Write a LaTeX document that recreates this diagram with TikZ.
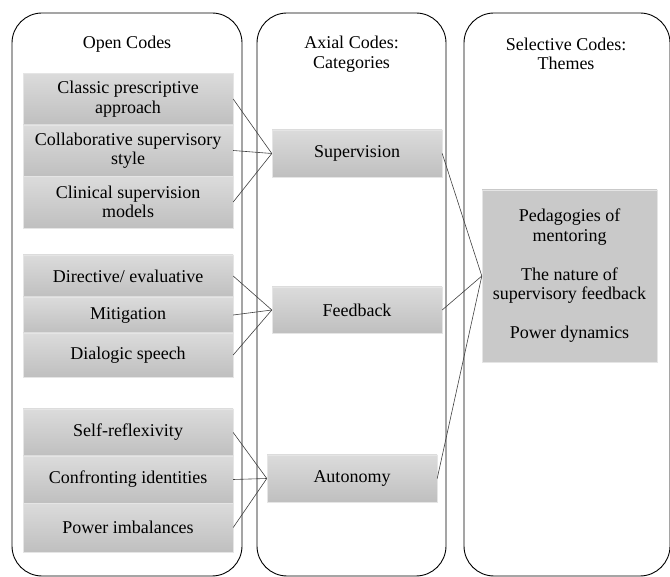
\documentclass[tikz,border=0pt]{standalone}
\usepackage{fontspec}
\setmainfont{Liberation Serif}

\newcommand{\codefont}{\fontsize{18}{19.5}\selectfont}
\newcommand{\panelframe}[4]% left, top, right, bottom
{(#1,#2) rectangle (#3,#4)
}

\begin{document}
\begin{tikzpicture}[x=1pt, y=-1pt,
  codecell/.style={draw=cellrim, top color=celltop, bottom color=cellbot, minimum width=210pt, align=center, inner sep=0pt, font=\codefont},
  axialcell/.style={codecell, minimum width=170pt},
  themecell/.style={codecell, minimum width=175pt, minimum height=172pt, top color=theme, bottom color=theme},
  heading/.style={align=center, font=\codefont},
  link/.style={draw=linkgray, line width=0.6pt},
  panel/.style={draw=black, line width=0.9pt, rounded corners=30pt}]

\definecolor{celltop}{rgb}{0.86,0.86,0.86}
\definecolor{cellbot}{rgb}{0.75,0.75,0.75}
\definecolor{cellrim}{rgb}{0.9,0.9,0.9}
\definecolor{theme}{rgb}{0.79,0.79,0.79}
\definecolor{linkgray}{rgb}{0.25,0.25,0.25}

\useasboundingbox (0,0) rectangle (670,577);
\clip (0,0) rectangle (670,577);

\draw[panel] \panelframe{12}{13}{242}{576};
\draw[panel] \panelframe{257}{13}{446}{576};
\draw[panel] \panelframe{464}{13}{670}{576};

\node[heading] (hopen) at (127,44) {Open Codes};
\node[heading] (haxial) at (351.5,54) {Axial Codes:\\Categories};
\node[heading] (hselect) at (566,54) {Selective Codes:\\Themes};

% open codes
\node[codecell, minimum height=51.5pt] (cls) at (128,99) {Classic prescriptive\\approach};
\node[codecell, minimum height=51.5pt] (col) at (128,150.5) {Collaborative supervisory\\style};
\node[codecell, minimum height=51.5pt] (cli) at (128,202) {Clinical supervision\\models};

\node[codecell, minimum height=42pt] (dir) at (128,276) {Directive/ evaluative};
\node[codecell, minimum height=36pt] (mit) at (128,315) {Mitigation};
\node[codecell, minimum height=44pt] (dia) at (128,355) {Dialogic speech};

\node[codecell, minimum height=47pt] (slf) at (128,432.5) {Self-reflexivity};
\node[codecell, minimum height=47pt] (con) at (128,479.5) {Confronting identities};
\node[codecell, minimum height=49pt] (pwr) at (128,527.5) {Power imbalances};

% axial codes
\node[axialcell, minimum height=47pt] (sup) at (357,153.5) {Supervision};
\node[axialcell, minimum height=46pt] (fdb) at (357,310) {Feedback};
\node[axialcell, minimum height=47pt] (aut) at (352,478.5) {Autonomy};

% themes
\node[themecell] (thm) at (569.5,276) {Pedagogies of\\mentoring\\[19.5pt]The nature of\\supervisory feedback\\[19.5pt]Power dynamics};

\draw[link] (cls.east) -- (sup.west);
\draw[link] (col.east) -- (sup.west);
\draw[link] (cli.east) -- (sup.west);

\draw[link] (dir.east) -- (fdb.west);
\draw[link] (mit.east) -- (fdb.west);
\draw[link] (dia.east) -- (fdb.west);

\draw[link] (slf.east) -- (aut.west);
\draw[link] (con.east) -- (aut.west);
\draw[link] (pwr.east) -- (aut.west);

\draw[link] (sup.east) -- (thm.west);
\draw[link] (fdb.east) -- (thm.west);
\draw[link] (aut.east) -- (thm.west);

\end{tikzpicture}
\end{document}
